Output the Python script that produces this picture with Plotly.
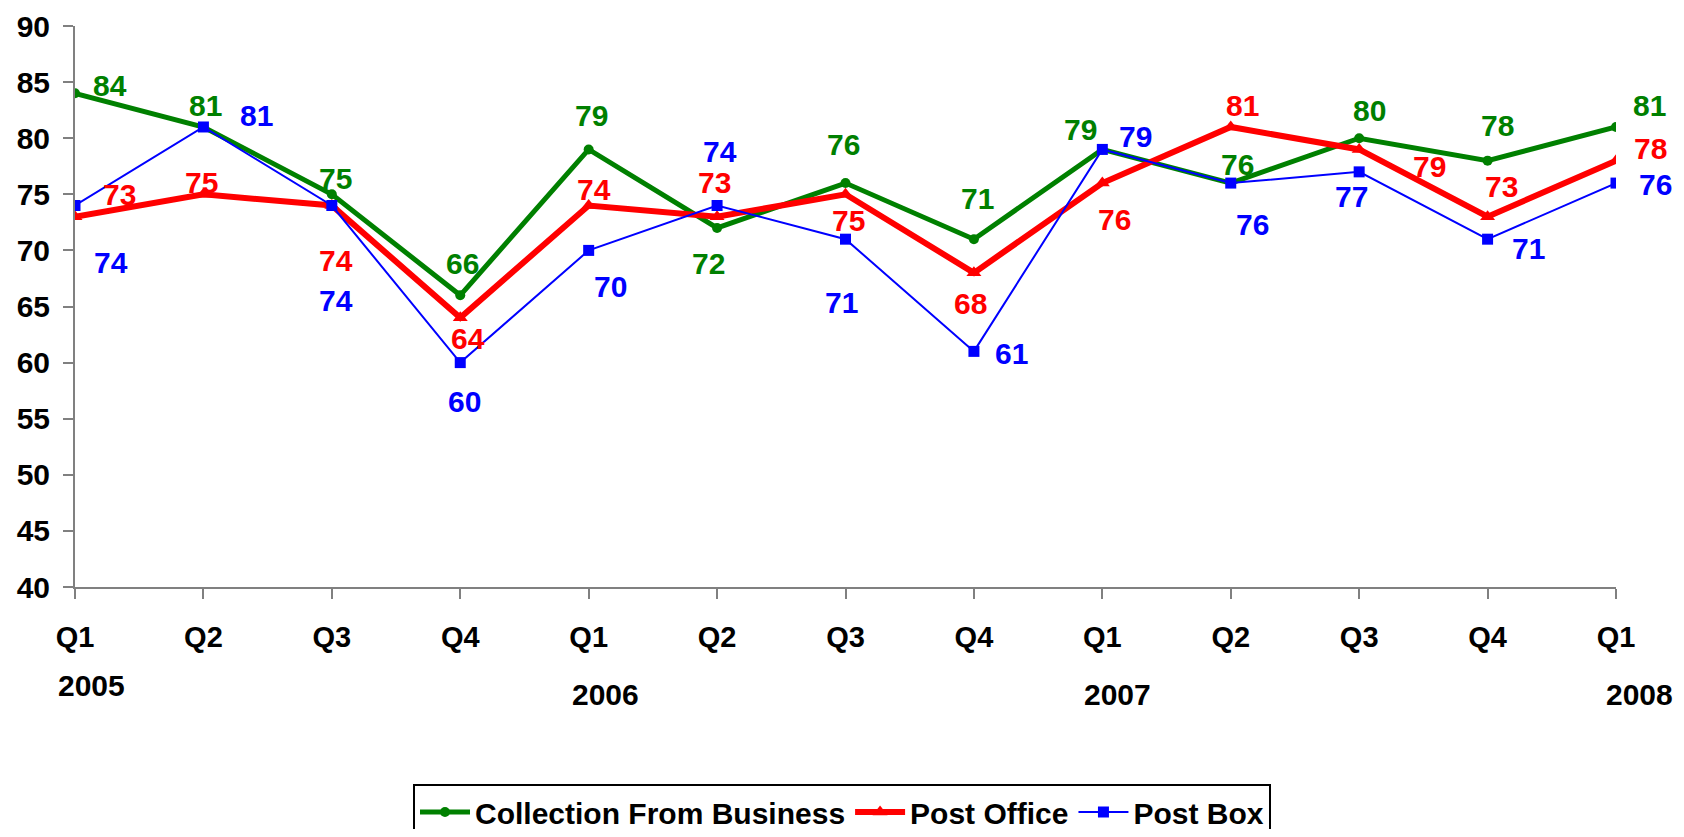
import plotly.graph_objects as go

quarters = ["Q1", "Q2", "Q3", "Q4", "Q1", "Q2", "Q3", "Q4", "Q1", "Q2", "Q3", "Q4", "Q1"]
years = ["2005", "2006", "2007", "2008"]
year_idx = [0, 4, 8, 12]

collection = [84, 81, 75, 66, 79, 72, 76, 71, 79, 76, 80, 78, 81]
post_office = [73, 75, 74, 64, 74, 73, 75, 68, 76, 81, 79, 73, 78]
post_box = [74, 81, 74, 60, 70, 74, 71, 61, 79, 76, 77, 71, 76]

# label offsets in pixels (dx, dy; dy positive = downward)
coll_off = [(35, -8), (2, -21), (4, -16), (2, -32), (3, -34), (-9, 36), (-2, -39),
            (4, -41), (-22, -20), (7, -19), (10, -28), (10, -35), (33, -21)]
po_off = [(44, -22), (-2, -12), (4, 55), (8, 21), (5, -16), (-3, -34), (3, 26),
          (-3, 31), (12, 36), (12, -21), (70, 17), (14, -30), (34, -12)]
pb_off = [(36, 57), (53, -11), (4, 95), (4, 39), (22, 36), (3, -54), (-4, 63),
          (38, 2), (33, -13), (22, 41), (-8, 25), (41, 9), (39, 1)]
year_off = [(16, -98), (17, -107), (15, -107), (23, -107)]

FONT = "Liberation Sans, Arial, sans-serif"
GREEN, RED, BLUE = "#008000", "#FF0000", "#0000FF"

x = list(range(len(quarters)))
fig = go.Figure()
fig.add_trace(go.Scatter(x=x, y=collection, name="Collection From Business", mode="lines+markers",
                         line=dict(color=GREEN, width=5), marker=dict(symbol="circle", size=10, color=GREEN)))
fig.add_trace(go.Scatter(x=x, y=post_office, name="Post Office", mode="lines+markers",
                         line=dict(color=RED, width=6), marker=dict(symbol="triangle-up", size=13, color=RED)))
fig.add_trace(go.Scatter(x=x, y=post_box, name="Post Box", mode="lines+markers",
                         line=dict(color=BLUE, width=2), marker=dict(symbol="square", size=11, color=BLUE)))

anns = []
for vals, offs, col in [(collection, coll_off, GREEN), (post_office, po_off, RED), (post_box, pb_off, BLUE)]:
    for i, (v, (dx, dy)) in enumerate(zip(vals, offs)):
        anns.append(dict(x=i, y=v, xref="x", yref="y", text=str(v), showarrow=False,
                         xshift=dx, yshift=-dy, xanchor="center", yanchor="middle",
                         font=dict(family=FONT, size=30, color=col, weight="bold")))
for yr, xi, (dx, dy) in zip(years, year_idx, year_off):
    anns.append(dict(x=xi, y=0, xref="x", yref="paper", text=yr, showarrow=False,
                     xshift=dx, yshift=dy, xanchor="center", yanchor="middle",
                     font=dict(family=FONT, size=30, color="black", weight="bold")))

fig.update_layout(
    width=1668, height=821,
    margin=dict(l=67, r=60, t=18, b=242, autoexpand=False),
    paper_bgcolor="white", plot_bgcolor="white",
    showlegend=True,
    legend=dict(orientation="h", x=0.5, xref="container", xanchor="center",
                y=1 - 776 / 821, yref="container", yanchor="top",
                bordercolor="black", borderwidth=2, bgcolor="white",
                font=dict(family=FONT, size=30, color="black", weight="bold"),
                itemwidth=50, tracegroupgap=0),
    annotations=anns,
)
fig.update_xaxes(range=[0, 12], tickvals=x, ticktext=quarters, showgrid=False, zeroline=False,
                 showline=True, linecolor="#808080", linewidth=2, ticks="outside", ticklen=10,
                 tickcolor="#808080", tickwidth=2, ticklabelstandoff=13, ticklabeloverflow="allow",
                 tickfont=dict(family=FONT, size=29, color="black", weight="bold"))
fig.update_yaxes(range=[40, 90], dtick=5, showgrid=False, zeroline=False,
                 showline=True, linecolor="#808080", linewidth=2, ticks="outside", ticklen=10,
                 tickcolor="#808080", tickwidth=2, ticklabelstandoff=7, ticklabeloverflow="allow",
                 tickfont=dict(family=FONT, size=30, color="black", weight="bold"))
fig.write_html("out.html")
